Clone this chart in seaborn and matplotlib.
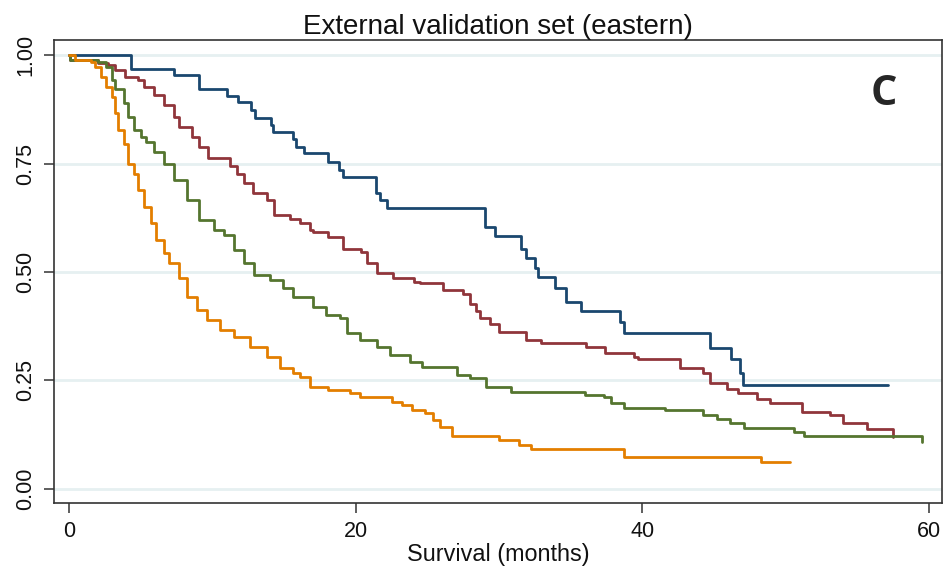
import numpy as np
import pandas as pd
import matplotlib
matplotlib.use("Agg")
import matplotlib.pyplot as plt
import seaborn as sns

# ---- data ----
blue_t = [0, 4.3, 7.3, 9.1, 11.0, 11.8, 12.7, 13.0, 14.1, 14.2, 15.6, 15.8, 16.4, 18.05, 18.8, 19.1,
          21.4, 21.7, 22.2, 29.0, 29.7, 31.5, 31.9, 32.5, 32.7, 33.9, 34.7, 35.7, 38.45, 38.75,
          44.7, 46.2, 46.8, 47.05, 57.1]
blue_s = [1.0, 0.969, 0.955, 0.921, 0.906, 0.891, 0.873, 0.856, 0.839, 0.823, 0.806, 0.789, 0.775,
          0.754, 0.736, 0.719, 0.683, 0.666, 0.647, 0.604, 0.583, 0.554, 0.533, 0.51, 0.489, 0.462,
          0.431, 0.410, 0.385, 0.358, 0.325, 0.299, 0.266, 0.238, 0.238]

red_t = [0, 0.1, 2.0, 2.7, 3.2, 3.9, 4.8, 5.2, 5.9, 6.6, 7.3, 7.7, 8.6, 9.1, 9.7, 11.2, 11.7, 12.2,
         12.8, 13.8, 14.3, 15.4, 16.1, 16.8, 17.0, 18.1, 19.1, 20.4, 20.8, 21.5, 22.6, 24.1, 24.5,
         26.1, 27.5, 28.0, 28.4, 28.7, 29.4, 30.0, 31.9, 32.9, 36.1, 37.4, 39.4, 39.7, 42.6, 44.2,
         44.7, 45.9, 46.7, 48.0, 48.9, 51.1, 53.1, 54.0, 55.7, 57.5]
red_s = [1.0, 0.99, 0.983, 0.977, 0.965, 0.950, 0.942, 0.927, 0.908, 0.885, 0.858, 0.835, 0.812,
         0.789, 0.762, 0.745, 0.727, 0.705, 0.681, 0.666, 0.631, 0.623, 0.612, 0.596, 0.593, 0.581,
         0.554, 0.547, 0.520, 0.497, 0.485, 0.477, 0.474, 0.458, 0.450, 0.427, 0.41, 0.393, 0.381,
         0.362, 0.343, 0.335, 0.326, 0.312, 0.304, 0.299, 0.278, 0.266, 0.243, 0.231, 0.220, 0.208,
         0.197, 0.178, 0.170, 0.151, 0.137, 0.120]

green_t = [0, 0.1, 2.0, 2.6, 3.0, 3.2, 3.8, 4.1, 4.5, 5.0, 5.4, 5.9, 6.6, 7.3, 8.2, 9.1, 10.1, 10.8,
           11.5, 12.2, 12.9, 14.0, 14.9, 15.6, 17.0, 17.9, 18.9, 19.4, 20.3, 21.5, 22.4, 23.8, 24.6,
           27.1, 28.0, 29.1, 30.8, 36.0, 37.3, 37.8, 38.7, 41.6, 44.2, 45.2, 46.1, 47.1, 50.6, 51.3,
           59.5]
green_s = [1.0, 0.99, 0.985, 0.973, 0.942, 0.923, 0.889, 0.858, 0.827, 0.812, 0.800, 0.777, 0.750,
           0.712, 0.666, 0.620, 0.596, 0.585, 0.550, 0.520, 0.493, 0.481, 0.462, 0.443, 0.420, 0.400,
           0.393, 0.358, 0.343, 0.327, 0.308, 0.293, 0.281, 0.262, 0.255, 0.235, 0.224, 0.216, 0.212,
           0.197, 0.185, 0.181, 0.170, 0.161, 0.151, 0.141, 0.131, 0.122, 0.108]

orange_t = [0, 0.4, 1.5, 1.8, 2.2, 2.6, 3.0, 3.2, 3.4, 3.8, 4.1, 4.5, 4.8, 5.2, 5.7, 6.1, 6.6, 7.0,
            7.7, 8.2, 8.9, 9.6, 10.5, 11.5, 12.6, 13.8, 14.7, 15.6, 16.1, 16.8, 18.1, 19.6, 20.3,
            22.5, 23.2, 23.9, 24.8, 25.4, 25.9, 26.7, 30.0, 31.4, 32.2, 38.7, 48.3, 50.3]
orange_s = [1.0, 0.99, 0.985, 0.973, 0.950, 0.927, 0.904, 0.866, 0.827, 0.796, 0.750, 0.727, 0.689,
            0.650, 0.612, 0.573, 0.543, 0.520, 0.485, 0.443, 0.412, 0.389, 0.366, 0.350, 0.327,
            0.304, 0.278, 0.266, 0.258, 0.235, 0.228, 0.220, 0.212, 0.201, 0.193, 0.181, 0.174,
            0.158, 0.143, 0.121, 0.112, 0.101, 0.091, 0.074, 0.062, 0.062]

groups = ["Group 1", "Group 2", "Group 3", "Group 4"]
colors = ["#1a476f", "#90353b", "#55752f", "#e37e00"]
y_ticks = [0.0, 0.25, 0.5, 0.75, 1.0]
y_labels = ["0.00", "0.25", "0.50", "0.75", "1.00"]
x_ticks = [0, 20, 40, 60]
title = "External validation set (eastern)"
xlabel = "Survival (months)"
panel = "C"

frames = []
for g, t, s in zip(groups, [blue_t, red_t, green_t, orange_t], [blue_s, red_s, green_s, orange_s]):
    frames.append(pd.DataFrame({"time": t, "surv": s, "group": g, "order": np.arange(len(t))}))
df = pd.concat(frames, ignore_index=True)

sns.set_style("white")
plt.rcParams["font.family"] = ["Liberation Sans", "DejaVu Sans"]

fig = plt.figure(figsize=(9.49, 5.78), dpi=100)
ax = fig.add_axes([0.0569, 0.1298, 0.9357, 0.801])

# grid lines
for yv in y_ticks:
    ax.axhline(yv, color="#e6f0f1", lw=2.0, zorder=0)

sns.lineplot(data=df, x="time", y="surv", hue="group", hue_order=groups,
             palette=dict(zip(groups, colors)), estimator=None, sort=False,
             drawstyle="steps-post", lw=2.0, legend=False, ax=ax)

ax.set_xlim(-1.05, 60.9)
ax.set_ylim(-0.033, 1.035)
ax.set_xticks(x_ticks)
ax.set_xticklabels([str(v) for v in x_ticks])
ax.set_yticks(y_ticks)
ax.set_yticklabels(y_labels, rotation=90, va="center")
ax.tick_params(axis="both", which="major", direction="out", length=7, width=1.1,
               color="#333333", labelsize=15.5, pad=6, labelcolor="#111111")
ax.tick_params(axis="y", left=True)
ax.tick_params(axis="x", bottom=True)
for sp in ax.spines.values():
    sp.set_visible(True)
    sp.set_color("#333333")
    sp.set_linewidth(1.2)

ax.set_xlabel(xlabel, fontsize=16.8, labelpad=1, color="#111111")
ax.set_ylabel("")
ax.set_title(title, fontsize=20, pad=4, color="#111111")
ax.text(0.935, 0.883, panel, transform=ax.transAxes, fontsize=30, fontweight="bold",
        ha="center", va="center", family=["Open Sans", "DejaVu Sans"])

fig.savefig("out.png", dpi=100, facecolor="white")
